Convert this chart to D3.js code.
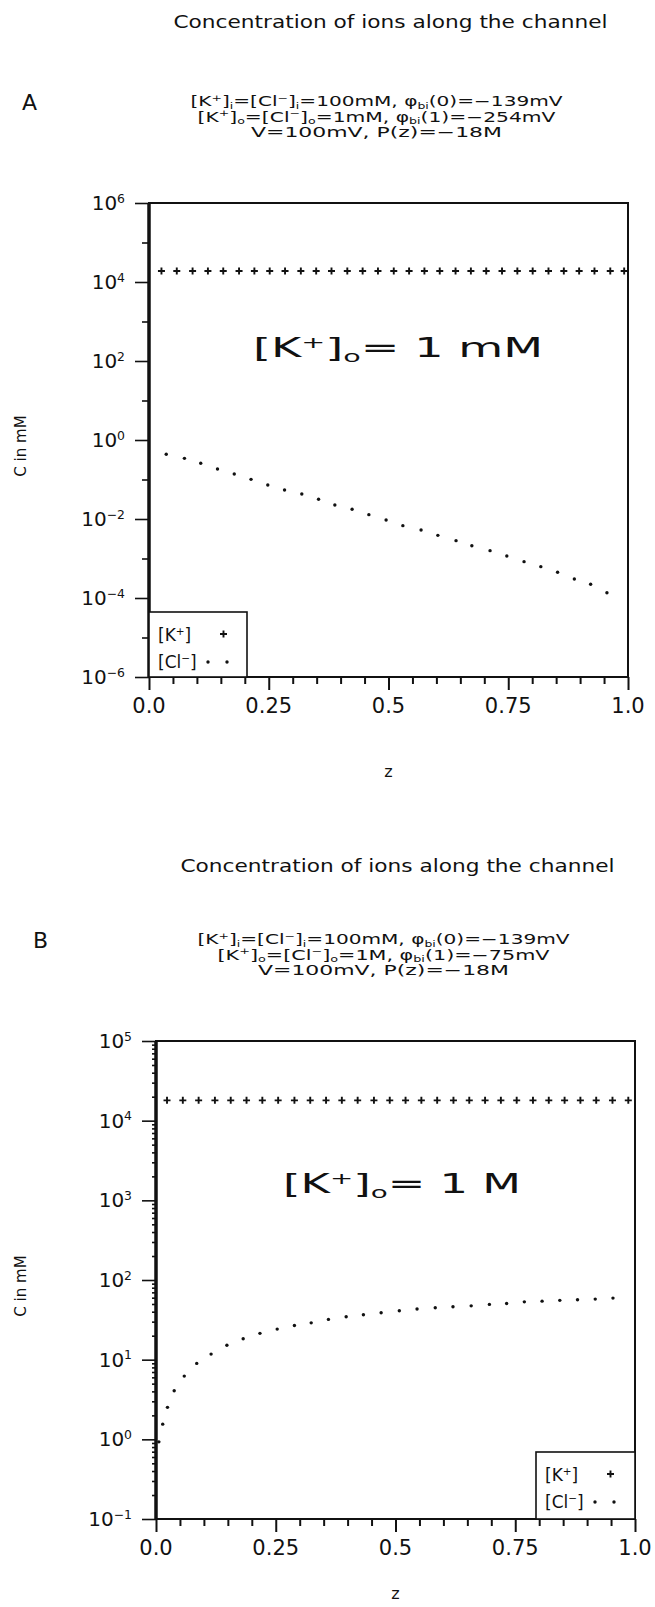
<!DOCTYPE html>
<html>
<head>
<meta charset="utf-8">
<script src="https://cdn.jsdelivr.net/npm/d3@7"></script>
<style>
  body { margin: 0; background: #fff; }
  svg { display: block; }
</style>
</head>
<body>
<svg width="655" height="1607"></svg>
<script>
// --- data ---
const zTickVals = [0, 0.25, 0.5, 0.75, 1.0];
const zTickLabels = ["0.0", "0.25", "0.5", "0.75", "1.0"];

// panel A: [K+]o = 1 mM
const expA = [6, 4, 2, 0, -2, -4, -6];
const zK_A = [0.026, 0.058, 0.091, 0.123, 0.155, 0.188, 0.220, 0.252, 0.284, 0.317,
  0.349, 0.381, 0.414, 0.446, 0.478, 0.511, 0.543, 0.575, 0.607, 0.640,
  0.672, 0.704, 0.737, 0.769, 0.801, 0.834, 0.866, 0.898, 0.930, 0.963, 0.992];
const cK_A = [1.9e4, 1.9e4, 1.9e4, 1.9e4, 1.9e4, 1.9e4, 1.9e4, 1.9e4, 1.9e4, 1.9e4,
  1.9e4, 1.9e4, 1.9e4, 1.9e4, 1.9e4, 1.9e4, 1.9e4, 1.9e4, 1.9e4, 1.9e4,
  1.9e4, 1.9e4, 1.9e4, 1.9e4, 1.9e4, 1.9e4, 1.9e4, 1.9e4, 1.9e4, 1.9e4, 1.9e4];
const zCl_A = [0.036, 0.074, 0.108, 0.143, 0.178, 0.213, 0.248, 0.283, 0.319, 0.354,
  0.388, 0.424, 0.459, 0.495, 0.530, 0.568, 0.603, 0.641, 0.674, 0.712,
  0.747, 0.783, 0.818, 0.853, 0.888, 0.922, 0.956];
const cCl_A = [0.434, 0.343, 0.257, 0.184, 0.138, 0.101, 0.0726, 0.0542, 0.043, 0.0315,
  0.0226, 0.0176, 0.0129, 0.00944, 0.00678, 0.00527, 0.00386, 0.00283, 0.00211, 0.00158,
  0.00116, 0.000832, 0.000621, 0.000447, 0.000303, 0.000222, 0.000136];

// panel B: [K+]o = 1 M
const expB = [5, 4, 3, 2, 1, 0, -1];
const zK_B = [0.023, 0.056, 0.089, 0.123, 0.156, 0.189, 0.222, 0.255, 0.289, 0.322,
  0.355, 0.388, 0.421, 0.455, 0.488, 0.521, 0.554, 0.587, 0.621, 0.654,
  0.687, 0.720, 0.753, 0.787, 0.820, 0.853, 0.886, 0.919, 0.953, 0.986];
const cK_B = [1.8e4, 1.8e4, 1.8e4, 1.8e4, 1.8e4, 1.8e4, 1.8e4, 1.8e4, 1.8e4, 1.8e4,
  1.8e4, 1.8e4, 1.8e4, 1.8e4, 1.8e4, 1.8e4, 1.8e4, 1.8e4, 1.8e4, 1.8e4,
  1.8e4, 1.8e4, 1.8e4, 1.8e4, 1.8e4, 1.8e4, 1.8e4, 1.8e4, 1.8e4, 1.8e4];
const zCl_B = [0.006, 0.014, 0.024, 0.038, 0.059, 0.085, 0.115, 0.148, 0.182, 0.217,
  0.253, 0.289, 0.324, 0.360, 0.397, 0.433, 0.470, 0.508, 0.545, 0.583,
  0.620, 0.658, 0.696, 0.732, 0.769, 0.806, 0.843, 0.880, 0.917, 0.954];
const cCl_B = [0.93, 1.55, 2.52, 4.07, 6.22, 8.98, 11.75, 15.2, 18.3, 21.4,
  24.2, 26.9, 29.0, 32.0, 34.5, 36.6, 38.8, 41.1, 43.2, 44.8,
  46.1, 47.4, 49.4, 50.8, 53.2, 54.3, 55.5, 56.5, 57.6, 59.3];

const FONT = "'DejaVu Sans', sans-serif";
const svg = d3.select("svg");

// append text made of plain / superscript / subscript pieces
function rich(textSel, parts, size) {
  let off = 0;
  parts.forEach(function(p) {
    const str = Array.isArray(p) ? p[0] : p;
    const kind = Array.isArray(p) ? p[1] : null;
    const target = kind === "sup" ? -0.36 * size : kind === "sub" ? 0.2 * size : 0;
    textSel.append("tspan")
      .attr("dy", target - off)
      .attr("font-size", kind ? size * 0.62 : size)
      .text(str);
    off = target;
  });
  return textSel;
}

function label(x, y, parts, size, opts) {
  opts = opts || {};
  const t = svg.append("text")
    .attr("x", x).attr("y", y)
    .attr("font-family", FONT)
    .attr("font-size", size)
    .attr("text-anchor", opts.anchor || "middle")
    .attr("fill", "#111");
  if (opts.len) t.attr("textLength", opts.len).attr("lengthAdjust", "spacingAndGlyphs");
  return rich(t, parts, size);
}

function drawPanel(p) {
  const x = d3.scaleLinear().domain([0, 1]).range([p.left, p.left + p.width]);
  const y = d3.scaleLog().domain(p.domain).range([p.top + p.height, p.top]);
  const g = svg.append("g");

  // titles
  label(p.left + p.width / 2 + 2, p.top + p.titleDy, ["Concentration of ions along the channel"], 17, { len: 434 });
  label(p.letterX, p.top - 93, [p.letter], 22, { anchor: "start" });
  p.lines.forEach(function(ln, i) {
    label(p.left + p.width / 2 - 12, p.top - 97 + i * 15.5, ln.parts, 14, { len: ln.len });
  });

  // x axis: ticks every 0.05, longer at labelled values
  const xAxis = d3.axisBottom(x)
    .tickValues(d3.range(0, 1.0001, 0.05))
    .tickSize(7)
    .tickFormat("");
  const xg = g.append("g").attr("transform", "translate(0," + (p.top + p.height) + ")").call(xAxis);
  xg.select(".domain").remove();
  xg.selectAll(".tick line").attr("stroke", "#111").attr("stroke-width", 2)
    .filter(function(d) { return zTickVals.some(function(v) { return Math.abs(v - d) < 1e-6; }); })
    .attr("y2", 13);
  zTickVals.forEach(function(v, i) {
    label(x(v), p.top + p.height + 36, [zTickLabels[i]], 21);
  });
  label(p.left + p.width / 2, p.top + p.height + p.zLabelDy, ["z"], 16);

  // y axis: log ticks pointing outwards
  const yAxis = d3.axisLeft(y).tickSize(4).tickFormat("");
  const yg = g.append("g").attr("transform", "translate(" + p.left + ",0)").call(yAxis);
  yg.select(".domain").remove();
  yg.selectAll(".tick line").attr("stroke", "#111").attr("stroke-width", 1.6)
    .attr("x2", function(d) {
      const e = Math.log10(d);
      if (Math.abs(e - Math.round(e)) > 1e-9) return -4;
      return p.exps.indexOf(Math.round(e)) >= 0 ? -14 : -7;
    });
  p.exps.forEach(function(e) {
    const parts = ["10", [e < 0 ? "\u2212" + (-e) : String(e), "sup"]];
    label(p.left - 24, y(Math.pow(10, e)) + 7, parts, 20, { anchor: "end" });
  });
  label(0, 0, ["C in mM"], 15).attr("transform", "translate(26," + (p.top + p.height / 2 + 6) + ") rotate(-90)");

  // frame
  g.append("rect")
    .attr("x", p.left).attr("y", p.top)
    .attr("width", p.width).attr("height", p.height)
    .attr("fill", "none").attr("stroke", "#111").attr("stroke-width", 2);
  g.append("line")
    .attr("x1", p.left).attr("x2", p.left)
    .attr("y1", p.top).attr("y2", p.top + p.height)
    .attr("stroke", "#111").attr("stroke-width", 3.5);

  // annotation
  label(p.annX, p.annY, p.ann, 26, { anchor: "start", len: p.annLen });

  // series: K+ as crosses, Cl- as dots
  const kData = p.kz.map(function(z, i) { return [z, p.kc[i]]; });
  const cData = p.clz.map(function(z, i) { return [z, p.clc[i]]; });
  g.append("g").selectAll("path").data(kData).join("path")
    .attr("d", function(d) {
      const cx = x(d[0]), cy = y(d[1]);
      return "M" + (cx - 3.5) + "," + cy + "H" + (cx + 3.5) + "M" + cx + "," + (cy - 3.5) + "V" + (cy + 3.5);
    })
    .attr("stroke", "#111").attr("stroke-width", 1.9);
  g.append("g").selectAll("circle").data(cData).join("circle")
    .attr("cx", function(d) { return x(d[0]); })
    .attr("cy", function(d) { return y(d[1]); })
    .attr("r", 1.7).attr("fill", "#111");

  // legend box
  const L = p.legend;
  g.append("rect")
    .attr("x", L.x).attr("y", L.y).attr("width", L.w).attr("height", L.h)
    .attr("fill", "#fff").attr("stroke", "#111").attr("stroke-width", 1.6);
  label(L.x + 9, L.y + 29, ["[K", ["+", "sup"], "]"], 17, { anchor: "start" });
  label(L.x + 9, L.y + 56, ["[Cl", ["\u2212", "sup"], "]"], 17, { anchor: "start" });
  g.append("path")
    .attr("d", "M" + (L.x + 71) + "," + (L.y + 22) + "h7M" + (L.x + 74.5) + "," + (L.y + 18.5) + "v7")
    .attr("stroke", "#111").attr("stroke-width", 1.9);
  g.append("circle").attr("cx", L.x + 59).attr("cy", L.y + 50).attr("r", 1.7).attr("fill", "#111");
  g.append("circle").attr("cx", L.x + 78).attr("cy", L.y + 50).attr("r", 1.7).attr("fill", "#111");
}

drawPanel({
  left: 149, top: 203, width: 479, height: 474,
  domain: [1e-6, 1e6], exps: expA,
  titleDy: -175,
  letter: "A", letterX: 22,
  lines: [
    { parts: ["[K", ["+", "sup"], "]", ["i", "sub"], "=[Cl", ["\u2212", "sup"], "]", ["i", "sub"],
      "=100mM,  \u03c6", ["bi", "sub"], "(0)=\u2212139mV"], len: 372 },
    { parts: ["[K", ["+", "sup"], "]", ["o", "sub"], "=[Cl", ["\u2212", "sup"], "]", ["o", "sub"],
      "=1mM,  \u03c6", ["bi", "sub"], "(1)=\u2212254mV"], len: 358 },
    { parts: ["V=100mV,  P(z)=\u221218M"], len: 251 }
  ],
  zLabelDy: 100,
  kz: zK_A, kc: cK_A, clz: zCl_A, clc: cCl_A,
  ann: ["[K", ["+", "sup"], "]", ["o", "sub"], "= 1 mM"], annX: 253, annY: 357, annLen: 290,
  legend: { x: 149, y: 612, w: 98, h: 65 }
});

drawPanel({
  left: 156, top: 1041, width: 479, height: 478,
  domain: [1e-1, 1e5], exps: expB,
  titleDy: -169,
  letter: "B", letterX: 33,
  lines: [
    { parts: ["[K", ["+", "sup"], "]", ["i", "sub"], "=[Cl", ["\u2212", "sup"], "]", ["i", "sub"],
      "=100mM,  \u03c6", ["bi", "sub"], "(0)=\u2212139mV"], len: 372 },
    { parts: ["[K", ["+", "sup"], "]", ["o", "sub"], "=[Cl", ["\u2212", "sup"], "]", ["o", "sub"],
      "=1M,  \u03c6", ["bi", "sub"], "(1)=\u221275mV"], len: 332 },
    { parts: ["V=100mV,  P(z)=\u221218M"], len: 251 }
  ],
  zLabelDy: 80,
  kz: zK_B, kc: cK_B, clz: zCl_B, clc: cCl_B,
  ann: ["[K", ["+", "sup"], "]", ["o", "sub"], "= 1 M"], annX: 283, annY: 1193, annLen: 238,
  legend: { x: 536, y: 1452, w: 99, h: 67 }
});
</script>
</body>
</html>
